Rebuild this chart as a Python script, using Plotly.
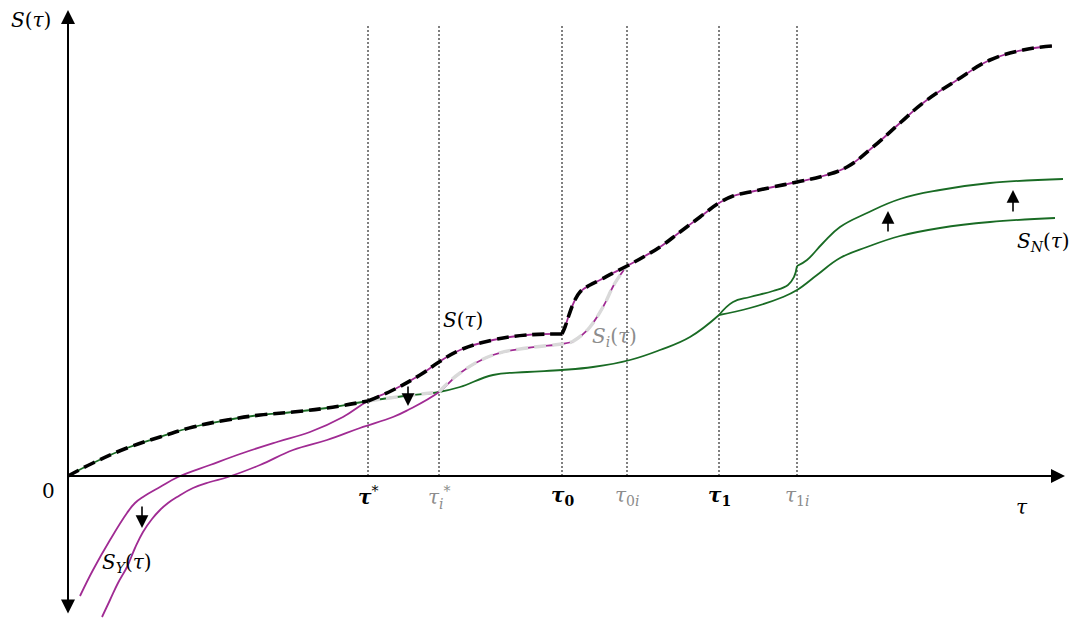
import plotly.graph_objects as go

# ---------------------------------------------------------------- colours
GREEN = "#196B24"
MAGENTA = "#A02B93"
LIGHT_GREY = "#D9D9D9"
GREY_TEXT = "#8C8C8C"
FONT = "DejaVu Serif"

# ---------------------------------------------------------------- data
# characteristic times
tau_star = 3.00
tau_star_i = 3.71
tau_0 = 4.94
tau_0i = 5.59
tau_1 = 6.51
tau_1i = 7.29

tick_tau = [tau_star, tau_star_i, tau_0, tau_0i, tau_1, tau_1i]
tick_text = [
    "<b><i>τ</i></b><sup>*</sup>",
    "<i>τ<sub>i</sub></i><sup>*</sup>",
    "<b><i>τ</i><sub>0</sub></b>",
    "<i>τ</i><sub>0<i>i</i></sub>",
    "<b><i>τ</i><sub>1</sub></b>",
    "<i>τ</i><sub>1<i>i</i></sub>",
]
tick_individual = [False, True, False, True, False, True]

# S_N(τ): lower branch, up to τ1
sn_tau_a = [0.00, 0.25, 0.59, 0.92, 1.25, 1.59, 1.92, 2.25, 2.59, 3.00, 3.37,
            3.71, 3.92, 4.25, 4.59, 4.94, 5.25, 5.62, 5.92, 6.22, 6.51]
sn_a = [0.00, 0.13, 0.28, 0.39, 0.49, 0.56, 0.61, 0.64, 0.68, 0.75, 0.80,
        0.84, 0.89, 1.01, 1.04, 1.06, 1.09, 1.16, 1.26, 1.39, 1.61]
# S_N(τ): lower branch, after τ1
sn_tau_b = [6.51, 6.82, 7.15, 7.29, 7.49, 7.72, 7.99, 8.32, 8.72, 9.22, 9.87]
sn_b = [1.61, 1.68, 1.79, 1.86, 2.01, 2.18, 2.29, 2.40, 2.48, 2.54, 2.58]

# raised S_N(τ): between τ1 and τ1i, then after τ1i
snu_tau_a = [6.51, 6.65, 6.82, 7.05, 7.20, 7.26, 7.29]
snu_a = [1.61, 1.74, 1.79, 1.85, 1.91, 1.99, 2.10]
snu_tau_b = [7.29, 7.39, 7.55, 7.72, 7.99, 8.32, 8.72, 9.22, 9.95]
snu_b = [2.10, 2.16, 2.33, 2.49, 2.63, 2.77, 2.86, 2.93, 2.97]

# S_Y(τ): up to τ0, then after τ0
sy_tau_a = [0.12, 0.25, 0.42, 0.59, 0.67, 0.75, 0.92, 1.10, 1.42, 1.75, 2.09, 2.42,
            2.75, 3.00, 3.25, 3.52, 3.71, 3.92, 4.25, 4.59, 4.94]
sy_a = [-1.20, -0.94, -0.64, -0.37, -0.27, -0.21, -0.11, -0.01, 0.11, 0.23, 0.34, 0.44,
        0.59, 0.75, 0.86, 1.01, 1.14, 1.26, 1.36, 1.41, 1.42]
sy_tau_b = [4.94, 4.97, 5.01, 5.06, 5.12, 5.22, 5.32, 5.45, 5.59, 5.77, 5.92,
            6.12, 6.32, 6.51, 6.65, 6.82, 7.05, 7.29, 7.55, 7.79, 8.05, 8.32,
            8.55, 8.89, 9.22, 9.55, 9.84]
sy_b = [1.42, 1.49, 1.61, 1.74, 1.84, 1.91, 1.96, 2.03, 2.10, 2.20, 2.29,
        2.44, 2.59, 2.73, 2.80, 2.84, 2.89, 2.94, 3.00, 3.09, 3.29, 3.53,
        3.73, 3.96, 4.16, 4.26, 4.30]

# lowered S_Y(τ) of individual i: up to the kink, then up to τ0i
syi_tau_a = [0.34, 0.42, 0.50, 0.59, 0.67, 0.75, 0.84, 0.92, 1.00, 1.09, 1.25, 1.42,
             1.60, 1.92, 2.25, 2.59, 2.92, 3.25, 3.40, 3.71, 3.92, 4.25, 4.59, 4.94, 5.04]
syi_a = [-1.41, -1.24, -1.07, -0.91, -0.72, -0.56, -0.43, -0.34, -0.27, -0.21, -0.12, -0.06,
         -0.01, 0.11, 0.26, 0.36, 0.48, 0.59, 0.66, 0.84, 1.03, 1.21, 1.28, 1.32, 1.34]
syi_tau_b = [5.04, 5.14, 5.22, 5.35, 5.47, 5.59]
syi_b = [1.34, 1.41, 1.49, 1.69, 1.93, 2.10]

# shift arrows: (τ, start S, end S)
shift_arrows = [
    (0.74, -0.29, -0.52),
    (3.40, 0.91, 0.70),
    (8.20, 2.43, 2.65),
    (9.45, 2.63, 2.86),
]


def part(taus, vals, lo, hi):
    pts = [(t, v) for t, v in zip(taus, vals) if lo - 1e-9 <= t <= hi + 1e-9]
    return [p[0] for p in pts], [p[1] for p in pts]


fig = go.Figure()


def curve(x, y, color, width, dash=None):
    fig.add_trace(go.Scatter(
        x=x, y=y, mode="lines", hoverinfo="skip",
        line=dict(color=color, width=width, dash=dash, shape="spline", smoothing=1.2),
    ))


# base curves
for xs, ys, col in [
    (sn_tau_a, sn_a, GREEN), (sn_tau_b, sn_b, GREEN),
    (snu_tau_a, snu_a, GREEN), (snu_tau_b, snu_b, GREEN),
    (sy_tau_a, sy_a, MAGENTA), (sy_tau_b, sy_b, MAGENTA),
    (syi_tau_a, syi_a, MAGENTA), (syi_tau_b, syi_b, MAGENTA),
]:
    curve(xs, ys, col, 1.8)

DASH = "12px,6px"

# S_i(τ): envelope for individual i (light grey dashes)
x, y = part(sn_tau_a, sn_a, tau_star, tau_star_i)
curve(x, y, LIGHT_GREY, 3.4, DASH)
x, y = part(syi_tau_a, syi_a, tau_star_i, 99)
curve(x, y, LIGHT_GREY, 3.4, DASH)
curve(syi_tau_b, syi_b, LIGHT_GREY, 3.4, DASH)

# S(τ): upper envelope (black dashes)
x, y = part(sn_tau_a, sn_a, 0, tau_star)
curve(x, y, "black", 3.6, DASH)
x, y = part(sy_tau_a, sy_a, tau_star, 99)
curve(x, y, "black", 3.6, DASH)
curve(sy_tau_b, sy_b, "black", 3.6, DASH)

# vertical guides at the characteristic times
for t in tick_tau:
    fig.add_shape(type="line", x0=t, x1=t, y0=0, y1=4.51, xref="x", yref="y",
                  line=dict(color="black", width=1, dash="2px,2px"), layer="below")

annotations = []

# axes with arrow heads
annotations.append(dict(x=0, y=4.66, ax=0, ay=-1.39, xref="x", yref="y", axref="x", ayref="y",
                        text="", showarrow=True, arrowside="end+start", arrowhead=2,
                        startarrowhead=2, arrowsize=1.4, startarrowsize=1.4,
                        arrowwidth=2, arrowcolor="black"))
annotations.append(dict(x=9.97, y=0, ax=0, ay=0, xref="x", yref="y", axref="x", ayref="y",
                        text="", showarrow=True, arrowhead=2, arrowsize=1.4,
                        arrowwidth=2, arrowcolor="black"))

# shift arrows
for t, s0, s1 in shift_arrows:
    annotations.append(dict(x=t, y=s1, ax=t, ay=s0, xref="x", yref="y", axref="x", ayref="y",
                            text="", showarrow=True, arrowhead=2, arrowsize=1.6,
                            arrowwidth=1.6, arrowcolor="black"))

# tick labels under the τ axis
for t, txt, indiv in zip(tick_tau, tick_text, tick_individual):
    annotations.append(dict(x=t, y=-0.05, xref="x", yref="y", text=txt, showarrow=False,
                            xanchor="center", yanchor="top",
                            font=dict(family=FONT, size=20, color=GREY_TEXT if indiv else "black")))


def label(x, y, txt, color="black", size=20):
    annotations.append(dict(x=x, y=y, xref="x", yref="y", text=txt, showarrow=False,
                            xanchor="center", yanchor="middle",
                            font=dict(family=FONT, size=size, color=color)))


label(-0.37, 4.56, "<i>S</i>(<i>τ</i>)")
label(-0.20, -0.15, "0")
label(9.54, -0.31, "<i>τ</i>")
label(3.95, 1.56, "<i>S</i>(<i>τ</i>)")
label(5.46, 1.39, "<i>S<sub>i</sub></i>(<i>τ</i>)", GREY_TEXT)
label(0.59, -0.87, "<i>S<sub>Y</sub></i>(<i>τ</i>)")
label(9.75, 2.34, "<i>S<sub>N</sub></i>(<i>τ</i>)")

fig.update_layout(
    width=1078, height=623,
    margin=dict(l=0, r=0, t=0, b=0),
    paper_bgcolor="white", plot_bgcolor="white",
    showlegend=False,
    xaxis=dict(range=[-0.68, 10.10], visible=False, fixedrange=True),
    yaxis=dict(range=[-1.47, 4.76], visible=False, fixedrange=True),
    annotations=annotations,
)

fig.write_html("out.html", config={"displayModeBar": False})
